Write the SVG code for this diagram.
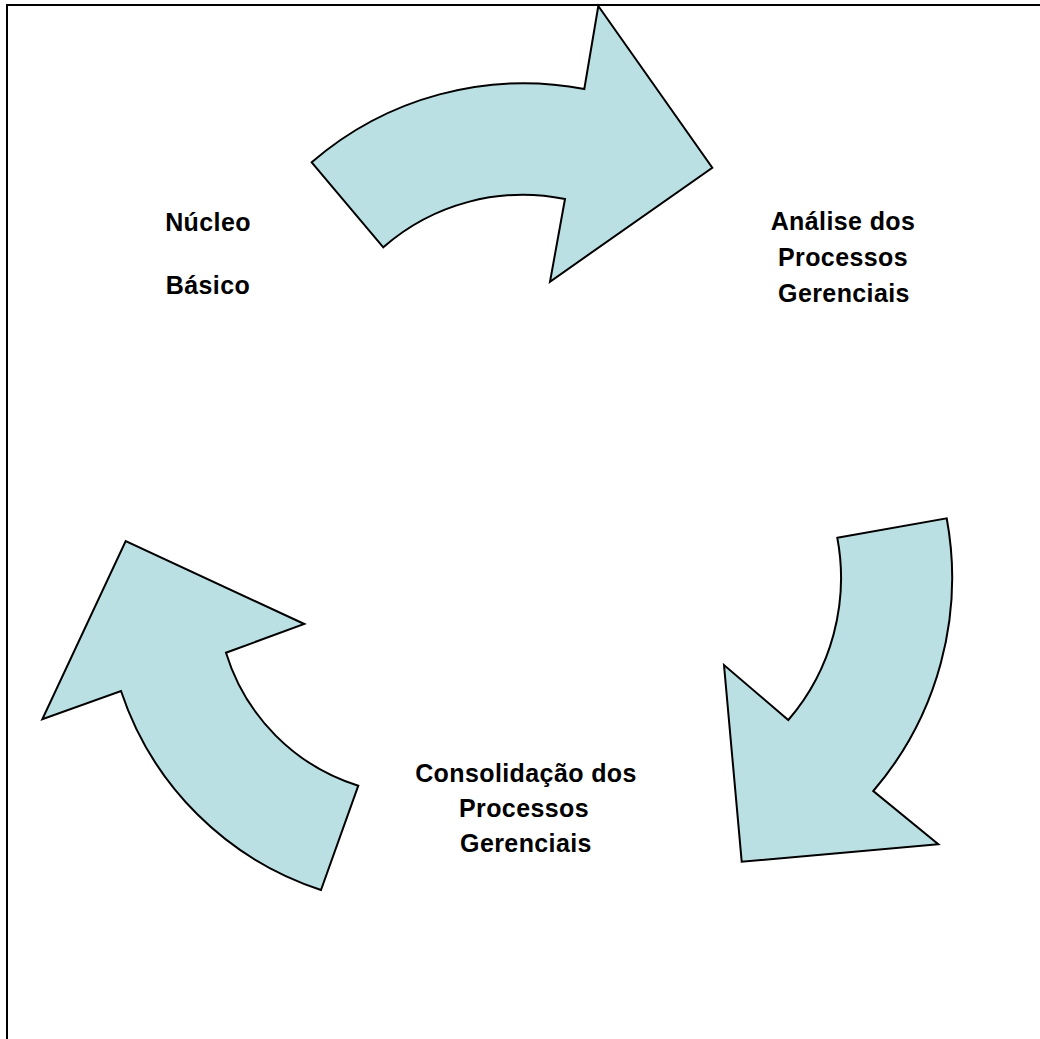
<svg xmlns="http://www.w3.org/2000/svg" width="1040" height="1039" viewBox="0 0 1040 1039">
<style>
.arrow{fill:#BBE0E3;stroke:#000;stroke-width:2;stroke-linejoin:miter}
.lbl{font-family:"Liberation Sans",Arial,sans-serif;font-weight:bold;font-size:25px;fill:#000;text-anchor:middle;letter-spacing:0.4px}
.frame{stroke:#000;stroke-width:2;fill:none}
</style>
<rect width="1040" height="1039" fill="#fff"/>
<g id="frame">
<path class="frame" d="M7,1039 V5 H1040"/>
</g>
<g id="connectors">
<path id="arrow-top" class="arrow" d="M311.7,162.3 A324,324 0 0,1 584.3,89 L598.3,6 L712.3,167.7 L550,281.7 L565,199 A212,212 0 0,0 383.3,247.3 Z"/>
<path id="arrow-right" class="arrow" d="M837.3,537.7 L946.7,518.3 A328,328 0 0,1 873.3,791 L938.3,844.3 L741.7,861.7 L724,665 L788.3,720 A218,218 0 0,0 837.3,537.7 Z"/>
<path id="arrow-left" class="arrow" d="M321,890 L358.3,785.7 A201,201 0 0,1 226,652.7 L304.3,624 L125.7,541 L42.3,719.3 L121,691 A313,313 0 0,0 321,890 Z"/>
</g>
<g id="node-nucleo">
<text class="lbl" x="208" y="231">Núcleo</text>
<text class="lbl" x="208" y="294">Básico</text>
</g>
<g id="node-analise">
<text class="lbl" x="843" y="230">Análise dos</text>
<text class="lbl" x="843" y="266">Processos</text>
<text class="lbl" x="844" y="302">Gerenciais</text>
</g>
<g id="node-consolidacao">
<text class="lbl" x="526" y="782">Consolidação dos</text>
<text class="lbl" x="524" y="817">Processos</text>
<text class="lbl" x="526" y="852">Gerenciais</text>
</g>
</svg>
